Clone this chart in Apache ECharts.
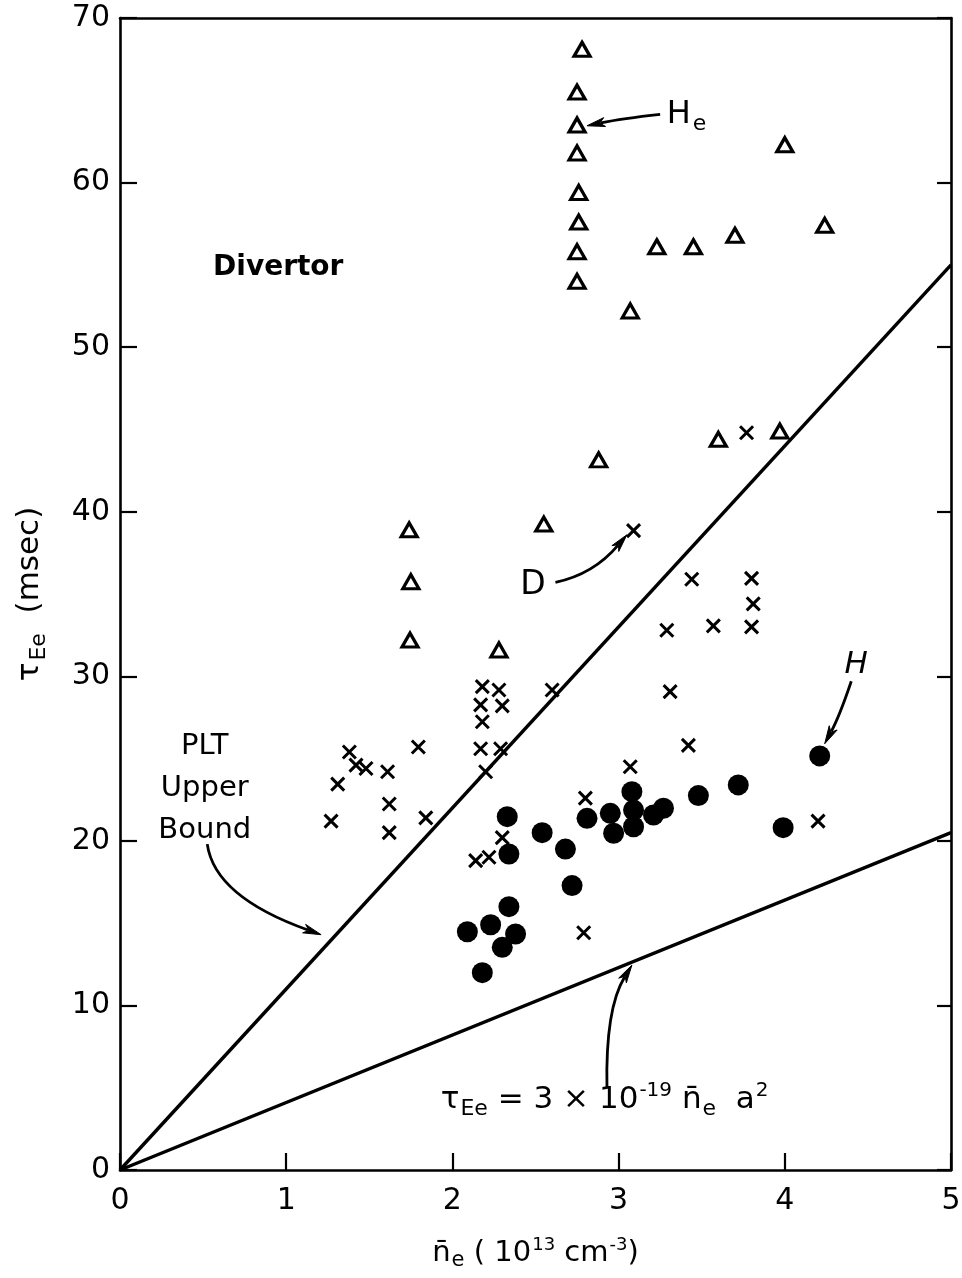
<!DOCTYPE html>
<html>
<head>
<meta charset="utf-8">
<script src="https://cdn.jsdelivr.net/npm/echarts@6/dist/echarts.min.js"></script>
<style>
  html, body { margin: 0; padding: 0; background: #fff; }
  #chart { width: 962px; height: 1278px; }
</style>
</head>
<body>
<div id="chart"></div>
<script>
// Divertor discharges: helium (open triangles), deuterium (crosses), hydrogen (dots)
// x: line-averaged density n_e (10^13 cm^-3), y: electron energy confinement time (msec)
const heliumPoints = [
  [2.78, 68.1], [2.75, 65.5], [2.75, 63.5], [2.75, 61.8], [2.76, 59.4],
  [2.76, 57.6], [2.75, 55.8], [2.75, 54.0], [3.07, 52.2], [3.23, 56.1],
  [3.45, 56.1], [3.70, 56.8], [4.00, 62.3], [4.24, 57.4], [2.88, 43.15],
  [3.60, 44.4], [3.97, 44.9], [1.74, 38.9], [2.55, 39.25], [1.75, 35.75],
  [1.745, 32.2], [2.28, 31.6]
];
const deuteriumPoints = [
  [3.77, 44.8], [3.09, 38.85], [3.44, 35.9], [3.80, 35.95], [3.81, 34.4],
  [3.80, 33.0], [3.57, 33.06], [3.29, 32.8], [3.31, 29.07], [3.42, 25.8],
  [4.20, 21.2], [2.60, 29.17], [2.18, 29.37], [2.28, 29.17], [2.17, 28.26],
  [2.30, 28.2], [2.18, 27.24], [2.17, 25.6], [2.29, 25.6], [2.20, 24.2],
  [1.795, 25.7], [1.38, 25.4], [1.42, 24.6], [1.48, 24.4], [1.31, 23.45],
  [1.27, 21.2], [1.61, 24.2], [1.62, 22.24], [1.62, 20.5], [1.84, 21.4],
  [3.07, 24.5], [2.80, 22.6], [2.30, 20.2], [2.14, 18.8], [2.22, 19.0],
  [2.79, 14.42]
];
const hydrogenPoints = [
  [2.33, 21.47], [2.34, 19.2], [2.54, 20.5], [2.68, 19.5], [2.72, 17.28],
  [2.81, 21.37], [2.95, 21.67], [2.97, 20.46], [3.08, 22.99], [3.09, 21.87],
  [3.09, 20.86], [3.21, 21.57], [3.27, 21.98], [3.48, 22.75], [3.72, 23.4],
  [3.99, 20.8], [4.21, 25.16], [2.34, 16.0], [2.23, 14.9], [2.09, 14.48],
  [2.38, 14.34], [2.30, 13.53], [2.18, 11.99]
];
// Reference lines through the origin
const pltUpperBound = [[0, 0], [5, 55]];
const scalingLaw = [[0, 0], [5, 20.5]];

const xTickValues = [0, 1, 2, 3, 4, 5];
const yTickValues = [0, 10, 20, 30, 40, 50, 60, 70];

const FONT = 'DejaVu Sans';
const INK = '#000';

const chart = echarts.init(document.getElementById('chart'), null, { renderer: 'canvas' });

const axisLine = { show: true, onZero: false, lineStyle: { color: INK, width: 2.6 } };

chart.setOption({
  animation: false,
  backgroundColor: '#fff',
  grid: { left: 120, right: 11, top: 18, bottom: 108, containLabel: false, outerBoundsMode: 'none' },
  xAxis: [{
    type: 'value', min: xTickValues[0], max: xTickValues[xTickValues.length - 1], interval: 1,
    position: 'bottom',
    axisLine,
    axisTick: { show: true, inside: true, length: 17, lineStyle: { color: INK, width: 2.2 } },
    axisLabel: { color: INK, fontFamily: FONT, fontSize: 30, margin: 16 },
    splitLine: { show: false },
    name: '{m|n\u0304}{s|e}{m| ( 10}{p|13}{m| cm}{p|-3}{m|)}',
    nameLocation: 'middle', nameGap: 64,
    nameTextStyle: {
      color: INK, fontFamily: FONT,
      rich: {
        m: { fontSize: 29, lineHeight: 38, fontFamily: FONT, color: INK },
        s: { fontSize: 21, lineHeight: 22, padding: [16, 0, 0, 1], fontFamily: FONT, color: INK },
        p: { fontSize: 18, lineHeight: 22, padding: [0, 0, 16, 1], fontFamily: FONT, color: INK }
      }
    }
  }, {
    type: 'value', min: 0, max: 5, position: 'top',
    axisLine, axisTick: { show: false }, axisLabel: { show: false }, splitLine: { show: false }
  }],
  yAxis: [{
    type: 'value', min: yTickValues[0], max: yTickValues[yTickValues.length - 1], interval: 10,
    position: 'left',
    axisLine,
    axisTick: { show: true, inside: true, length: 17, lineStyle: { color: INK, width: 2.2 } },
    axisLabel: { color: INK, fontFamily: FONT, fontSize: 30, margin: 10 },
    splitLine: { show: false },
    name: '{m|\u03c4}{s|Ee}{m|  (msec)}',
    nameLocation: 'middle', nameGap: 70,
    nameTextStyle: {
      color: INK, fontFamily: FONT,
      rich: {
        m: { fontSize: 31, lineHeight: 40, fontFamily: FONT, color: INK },
        s: { fontSize: 22, lineHeight: 22, padding: [18, 0, 0, 2], fontFamily: FONT, color: INK }
      }
    }
  }, {
    type: 'value', min: 0, max: 70, interval: 10, position: 'right',
    axisLine,
    axisTick: { show: true, inside: true, length: 14, lineStyle: { color: INK, width: 2.2 } },
    axisLabel: { show: false }, splitLine: { show: false }
  }],
  series: [
    {
      name: 'PLT upper bound', type: 'line', data: pltUpperBound, symbol: 'none',
      lineStyle: { color: INK, width: 3.4 }, z: 2
    },
    {
      name: 'Scaling', type: 'line', data: scalingLaw, symbol: 'none',
      lineStyle: { color: INK, width: 3.4 }, z: 2
    },
    {
      name: 'He', type: 'scatter', data: heliumPoints,
      symbol: 'triangle', symbolSize: [16, 14],
      itemStyle: { color: '#fff', borderColor: INK, borderWidth: 3.2, opacity: 1 }, z: 4
    },
    {
      name: 'D', type: 'scatter', data: deuteriumPoints,
      symbol: 'path://M0,0L10,10M10,0L0,10', symbolSize: 13,
      itemStyle: { color: 'none', borderColor: INK, borderWidth: 3, opacity: 1 }, z: 4
    },
    {
      name: 'H', type: 'scatter', data: hydrogenPoints,
      symbol: 'circle', symbolSize: 21,
      itemStyle: { color: INK, opacity: 1 }, z: 5
    }
  ]
});

// Annotation anchors, in data units
const labelDivertor = [0.56, 54.8];
const labelHe = [3.29, 64.1];
const arrowHe = [[3.25, 64.15], [3.02, 63.9], [2.81, 63.45]];
const labelD = [2.485, 35.55];
const arrowD = [[2.62, 35.7], [2.85, 36.2], [3.05, 38.6]];
const labelH = [4.43, 30.7];
const arrowH = [[4.40, 29.7], [4.33, 27.6], [4.24, 25.9]];
const labelPLT = [0.51, 27.0];
const arrowPLT = [[0.525, 19.8], [0.57, 16.6], [1.21, 14.3]];
const labelScaling = [1.93, 4.25];
const arrowScaling = [[2.93, 5.0], [2.92, 9.8], [3.08, 12.45]];

const px = p => chart.convertToPixel({ gridIndex: 0 }, p);

function curvedArrow(pts) {
  const a = px(pts[0]), c = px(pts[1]), b = px(pts[2]);
  const dx = b[0] - c[0], dy = b[1] - c[1];
  const len = Math.hypot(dx, dy) || 1;
  const ux = dx / len, uy = dy / len;
  const headLen = 18, headHalf = 4.5;
  const baseX = b[0] - ux * headLen, baseY = b[1] - uy * headLen;
  return [
    {
      type: 'bezierCurve',
      shape: { x1: a[0], y1: a[1], cpx1: c[0], cpy1: c[1], x2: baseX + ux * 4, y2: baseY + uy * 4 },
      style: { stroke: INK, lineWidth: 2.8, fill: null }, z: 10
    },
    {
      type: 'polygon',
      shape: { points: [
        [b[0], b[1]],
        [baseX - uy * headHalf, baseY + ux * headHalf],
        [baseX + ux * 5, baseY + uy * 5],
        [baseX + uy * headHalf, baseY - ux * headHalf]
      ] },
      style: { fill: INK, stroke: INK, lineWidth: 1 }, z: 10
    }
  ];
}

function label(pos, text, opts) {
  const p = px(pos);
  return {
    type: 'text', x: p[0], y: p[1], z: 11,
    style: Object.assign({
      text, fill: INK, font: '28px "' + FONT + '"',
      textAlign: 'left', textVerticalAlign: 'middle'
    }, opts || {})
  };
}

const richFormula = {
  m: { fontSize: 31, lineHeight: 40, fontFamily: FONT, fill: INK },
  s: { fontSize: 22, lineHeight: 22, padding: [18, 0, 0, 1], fontFamily: FONT, fill: INK },
  p: { fontSize: 20, lineHeight: 22, padding: [0, 0, 18, 1], fontFamily: FONT, fill: INK }
};

const graphics = [].concat(
  [label(labelDivertor, 'Divertor', { font: 'bold 28px "' + FONT + '"' })],
  [label(labelHe, '{m|H}{s|e}', { rich: {
    m: { fontSize: 32, lineHeight: 40, fontFamily: FONT, fill: INK },
    s: { fontSize: 22, lineHeight: 22, padding: [18, 0, 0, 2], fontFamily: FONT, fill: INK }
  } })],
  curvedArrow(arrowHe),
  [label(labelD, 'D', { font: '33px "' + FONT + '"', textAlign: 'center' })],
  curvedArrow(arrowD),
  [label(labelH, 'H', { font: 'italic 31px "' + FONT + '"', textAlign: 'center' })],
  curvedArrow(arrowH),
  [label(labelPLT, 'PLT\nUpper\nBound', {
    font: '29px "' + FONT + '"', textAlign: 'center', textVerticalAlign: 'top', lineHeight: 42
  })],
  curvedArrow(arrowPLT),
  [label(labelScaling, '{m|\u03c4}{s|Ee}{m| = 3 \u00d7 10}{p|-19}{m| n\u0304}{s|e}{m|  a}{p|2}', { rich: richFormula })],
  curvedArrow(arrowScaling)
);

chart.setOption({ graphic: graphics });
</script>
</body>
</html>
